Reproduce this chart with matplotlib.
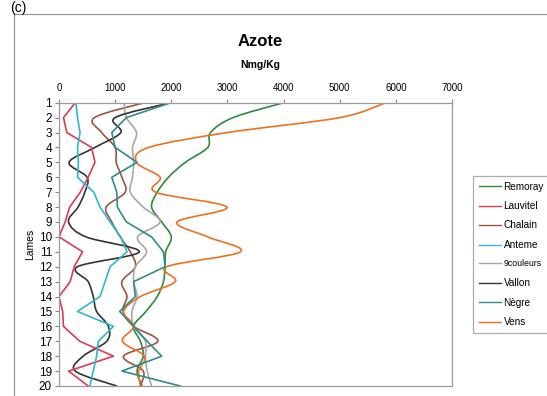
import matplotlib
matplotlib.use("Agg")
import matplotlib.pyplot as plt
from matplotlib.path import Path
from matplotlib.patches import PathPatch, Rectangle
from matplotlib.lines import Line2D
import numpy as np

plt.rcParams['font.family'] = ['Liberation Sans', 'DejaVu Sans']

lames = list(range(1, 21))
remoray   = [4000, 3100, 2700, 2650, 2250, 1950, 1750, 1650, 1830, 2000, 1900, 1890, 1860, 1750, 1550, 1330, 1450, 1500, 1390, 1480]
lauvitel  = [290, 80, 140, 580, 640, 520, 380, 190, 110, 0, 420, 270, 200, 0, 65, 80, 370, 970, 170, 520]
chalain   = [1520, 630, 760, 1000, 1020, 1120, 1180, 840, 940, 1090, 1270, 1360, 1120, 1210, 1140, 1330, 1760, 1150, 1500, 1450]
anteme    = [300, 330, 375, 330, 345, 330, 620, 730, 910, 1100, 1210, 910, 820, 730, 330, 970, 700, 670, 610, 550]
neufcoul  = [1160, 1200, 1380, 1310, 1330, 1310, 1270, 1500, 1800, 1400, 1560, 1360, 1330, 1390, 1300, 1330, 1540, 1540, 1570, 1650]
vallon    = [1990, 1000, 1100, 640, 180, 500, 460, 340, 170, 480, 1430, 330, 520, 610, 670, 880, 850, 430, 290, 1030]
negre     = [1990, 1200, 940, 1000, 1390, 940, 1030, 1040, 1200, 1650, 1860, 1890, 1330, 1360, 1080, 1330, 1570, 1830, 1120, 2160]
vens      = [5820, 5000, 3000, 1600, 1380, 1800, 1720, 2990, 2100, 2650, 3230, 1920, 2070, 1450, 1150, 1330, 1130, 1520, 1420, 1450]

series_names = ["Remoray", "Lauvitel", "Chalain", "Anteme", "9couleurs", "Vallon", "Nègre", "Vens"]
series_values = [remoray, lauvitel, chalain, anteme, neufcoul, vallon, negre, vens]
colors = ["#2e8b3a", "#e23a4e", "#a0553a", "#2ab8d8", "#a8a8a8", "#333333", "#2f8c8a", "#f07020"]
smooth = [True, False, True, False, True, True, False, True]
xticks = [0, 1000, 2000, 3000, 4000, 5000, 6000, 7000]

W, H = 547, 396
fig = plt.figure(figsize=(W / 100, H / 100), dpi=100)
ax = fig.add_axes([59 / W, 1 - 386 / H, (452 - 59) / W, (386 - 102.7) / H])


def smooth_path(xs, ys):
    pts = np.column_stack([xs, ys]).astype(float)
    n = len(pts)
    verts = [pts[0]]
    codes = [Path.MOVETO]
    for i in range(n - 1):
        p0 = pts[i - 1] if i > 0 else pts[i]
        p1 = pts[i]
        p2 = pts[i + 1]
        p3 = pts[i + 2] if i + 2 < n else pts[i + 1]
        c1 = p1 + (p2 - p0) / 6.0
        c2 = p2 - (p3 - p1) / 6.0
        verts += [c1, c2, p2]
        codes += [Path.CURVE4] * 3
    return Path(verts, codes)


handles = []
for name, vals, col, sm in zip(series_names, series_values, colors, smooth):
    if sm:
        patch = PathPatch(smooth_path(vals, lames), fill=False, edgecolor=col, lw=1.2)
        ax.add_patch(patch)
    else:
        ax.plot(vals, lames, color=col, lw=1.2)
    handles.append(Line2D([], [], color=col, lw=1.0))

ax.set_xlim(0, 7000)
ax.set_ylim(20, 1)
ax.set_xticks(xticks)
ax.set_yticks(lames)
ax.xaxis.tick_top()
ax.tick_params(axis='x', labelsize=7, length=3, color='#888888', pad=4)
ax.tick_params(axis='y', labelsize=8.5, length=3, color='#888888', pad=2)
for s in ax.spines.values():
    s.set_color('#999999')
    s.set_linewidth(0.9)
ax.set_ylabel("Lames", fontsize=7.5, labelpad=3)

fig.text(260 / W, 1 - 42 / H, "Azote", ha='center', va='center', fontsize=12, fontweight='bold')
fig.text(260 / W, 1 - 65 / H, "Nmg/Kg", ha='center', va='center', fontsize=7.5, fontweight='bold')
fig.text(10 / W, 1 - 1 / H, "(c)", ha='left', va='top', fontsize=10)

fig.patches.append(Rectangle((14 / W, -0.1), 1.2, 1.1 - 14 / H, transform=fig.transFigure,
                             fill=False, edgecolor='#999999', lw=0.9))

leg = fig.legend(handles, series_names, loc='upper left', bbox_to_anchor=(473 / W, 1 - 176 / H),
                 frameon=True, fancybox=False, fontsize=7.2, handlelength=2.2, handletextpad=0.3,
                 labelspacing=0.95, borderpad=0.55, borderaxespad=0)
leg.get_frame().set_edgecolor('#999999')
leg.get_frame().set_linewidth(0.9)
for t in leg.get_texts():
    if t.get_text() == "9couleurs":
        t.set_fontsize(6.3)

fig.savefig("out.png", dpi=100)
